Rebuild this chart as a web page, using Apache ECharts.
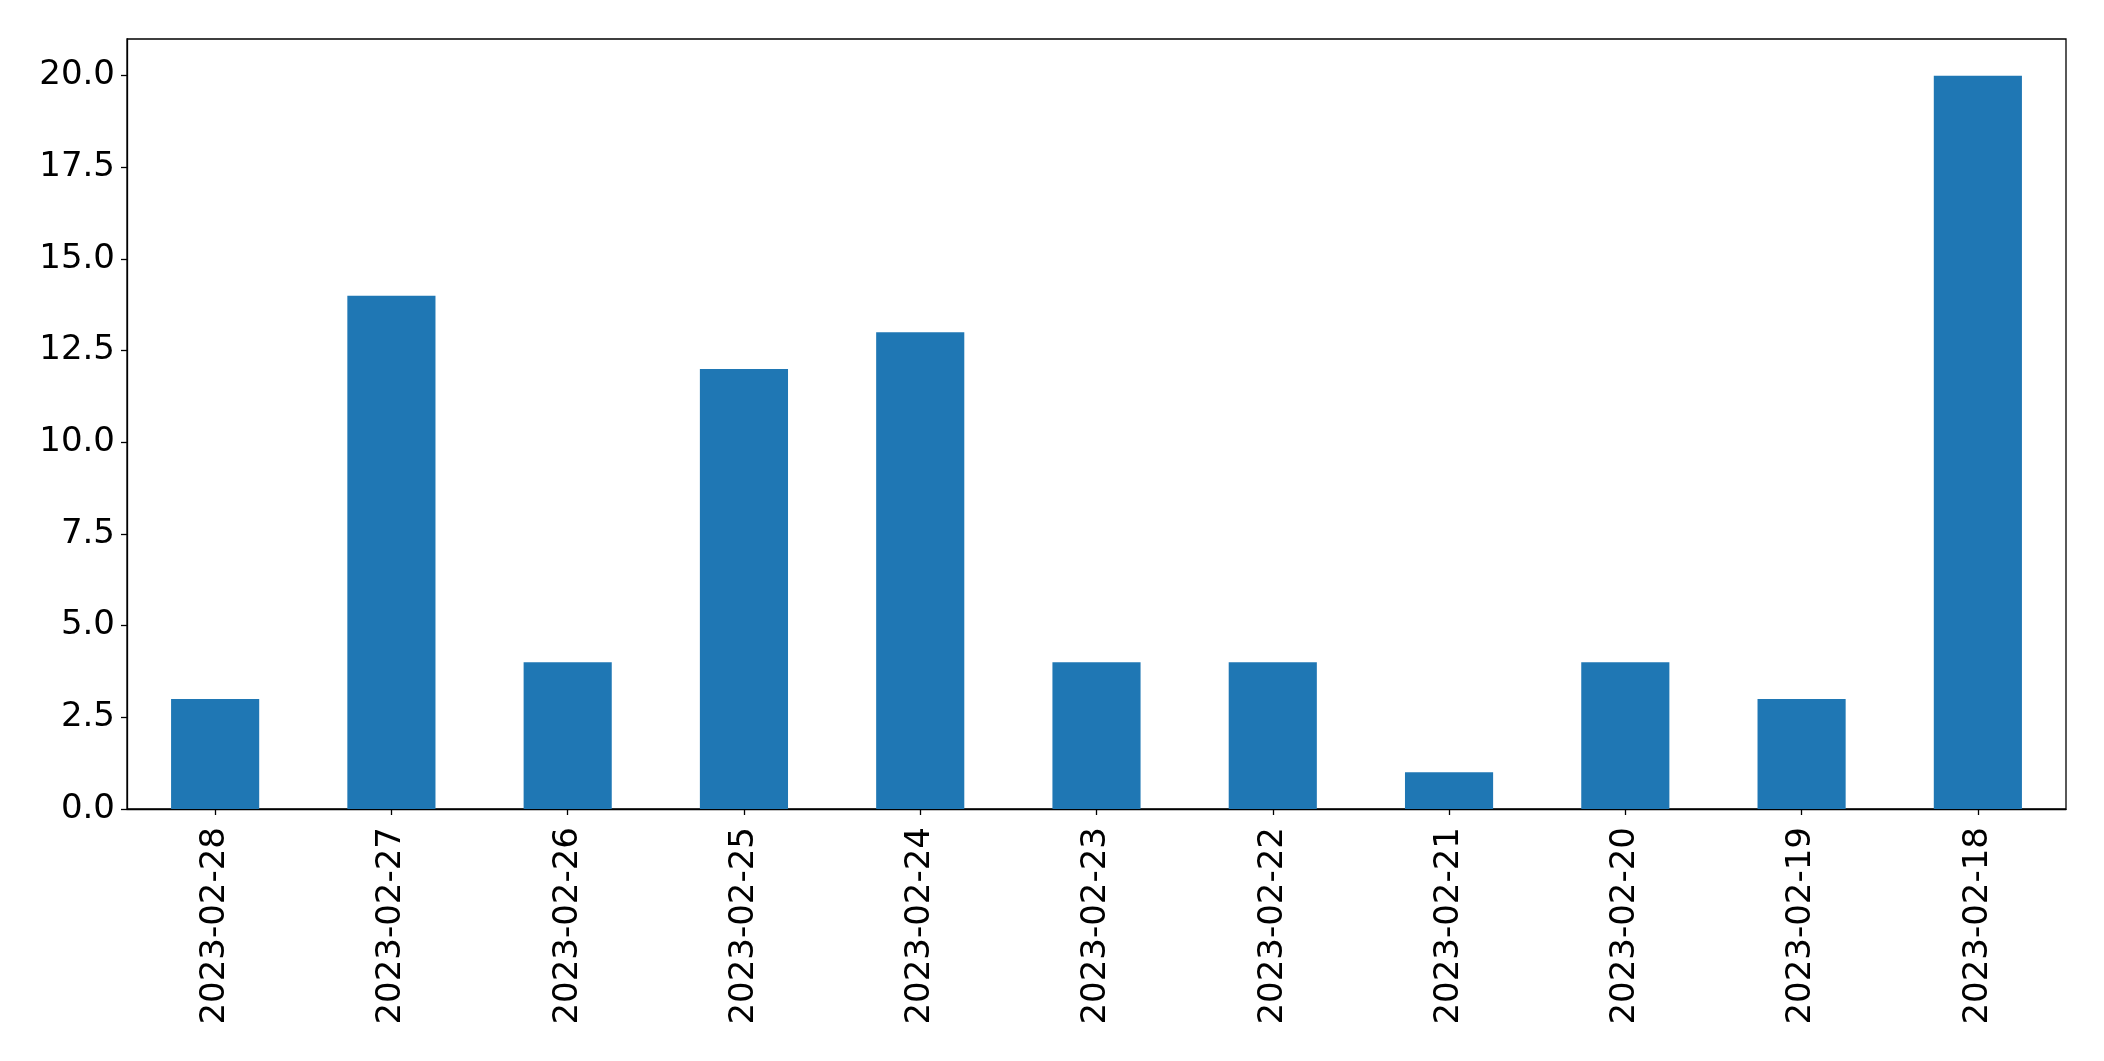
<!DOCTYPE html>
<html>
<head>
<meta charset="utf-8">
<script src="https://cdn.jsdelivr.net/npm/echarts@6/dist/echarts.min.js"></script>
<style>
html,body{margin:0;padding:0;background:#fff;}
#chart{width:2104px;height:1061px;}
</style>
</head>
<body>
<div id="chart"></div>
<script>
const categories = ['2023-02-28','2023-02-27','2023-02-26','2023-02-25','2023-02-24','2023-02-23','2023-02-22','2023-02-21','2023-02-20','2023-02-19','2023-02-18'];
const values = [3, 14, 4, 12, 13, 4, 4, 1, 4, 3, 20];

const chart = echarts.init(document.getElementById('chart'), null, {renderer: 'canvas'});
const font = 'DejaVu Sans';
chart.setOption({
  animation: false,
  backgroundColor: '#fff',
  grid: {left: 127, right: 38, top: 39, bottom: 252, show: true, borderColor: '#000', borderWidth: 1.3, backgroundColor: 'transparent'},
  xAxis: {
    type: 'category',
    data: categories,
    boundaryGap: true,
    axisLine: {show: true, lineStyle: {color: '#000', width: 1.3}},
    axisTick: {show: true, alignWithLabel: true, length: 6, lineStyle: {color: '#000', width: 1.3}},
    axisLabel: {rotate: 90, margin: 18, fontFamily: font, fontSize: 34, color: '#000', interval: 0},
    splitLine: {show: false}
  },
  yAxis: {
    type: 'value',
    min: 0, max: 21, interval: 2.5,
    axisLine: {show: true, lineStyle: {color: '#000', width: 1.3}},
    axisTick: {show: true, length: 6, lineStyle: {color: '#000', width: 1.3}},
    axisLabel: {margin: 12, fontFamily: font, fontSize: 34, color: '#000',
      formatter: v => v.toFixed(1), showMaxLabel: false},
    splitLine: {show: false}
  },
  series: [{
    type: 'bar',
    data: values,
    barWidth: '50%',
    itemStyle: {color: '#1f77b4'}
  }]
});
</script>
</body>
</html>
